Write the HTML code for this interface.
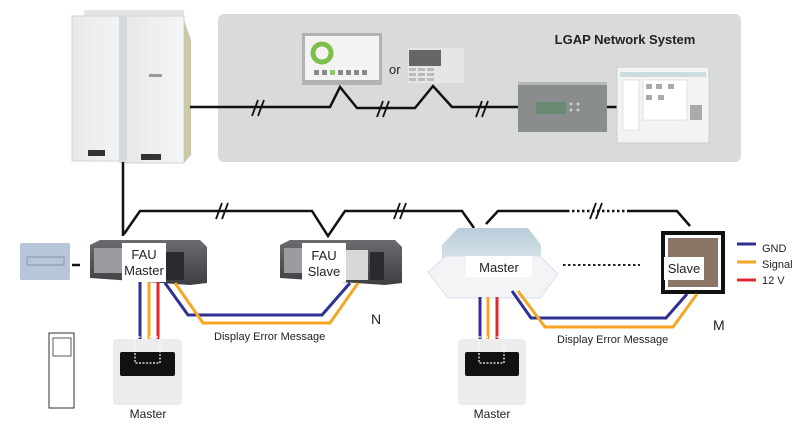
<!DOCTYPE html>
<html><head><meta charset="utf-8"><style>
html,body{margin:0;padding:0;background:#fff;}
svg{display:block;font-family:"Liberation Sans",Arial,sans-serif;}
</style></head><body>
<svg width="804" height="430" viewBox="0 0 804 430" xmlns="http://www.w3.org/2000/svg">
<defs>
<linearGradient id="ou" x1="0" x2="1"><stop offset="0" stop-color="#e6e8ea"/><stop offset="1" stop-color="#f4f5f6"/></linearGradient>
<linearGradient id="duct" x1="0" y1="0" x2="0" y2="1"><stop offset="0" stop-color="#6a6c70"/><stop offset="1" stop-color="#3d3f43"/></linearGradient>
<linearGradient id="cas" x1="0" y1="0" x2="0" y2="1"><stop offset="0" stop-color="#b9cdda"/><stop offset="1" stop-color="#d8e3ea"/></linearGradient>
</defs>
<!-- gray panel -->
<rect x="218" y="14" width="523" height="148" rx="6" fill="#d9dadb"/>
<text x="625" y="44" font-size="13" font-weight="bold" text-anchor="middle" fill="#222">LGAP Network System</text>
<!-- outdoor unit -->
<rect x="84" y="10" width="100" height="10" fill="#e2e4e6"/>
<rect x="72" y="16" width="54" height="145" fill="url(#ou)" stroke="#d0d3d6"/>
<rect x="126" y="16" width="58" height="147" fill="url(#ou)" stroke="#d0d3d6"/>
<rect x="119" y="16" width="8" height="147" fill="#d6d9dc"/>
<polygon points="184,20 191,40 191,155 184,163" fill="#c9c9a8"/>
<rect x="88" y="150" width="17" height="6" fill="#333"/>
<rect x="141" y="154" width="20" height="6" fill="#333"/>
<rect x="149" y="74" width="13" height="3" fill="#999"/>
<!-- top line -->
<polyline points="190,107 330,107 340,87 357,108 415,108 433,86 452,107 518,107" fill="none" stroke="#111" stroke-width="2.5"/>
<line x1="607" y1="107" x2="618" y2="107" stroke="#111" stroke-width="2.5"/>
<g stroke="#111" stroke-width="1.8">
<line x1="252" y1="116" x2="258" y2="100"/><line x1="258" y1="116" x2="264" y2="100"/>
<line x1="377" y1="117" x2="383" y2="101"/><line x1="383" y1="117" x2="389" y2="101"/>
<line x1="476" y1="117" x2="482" y2="101"/><line x1="482" y1="117" x2="488" y2="101"/>
</g>
<!-- touch screen -->
<rect x="302" y="33" width="80" height="52" fill="#b0b2b4"/>
<rect x="305" y="36" width="74" height="44" fill="#f2f3f2"/>
<circle cx="322" cy="53" r="9" fill="none" stroke="#7cc04a" stroke-width="5"/>
<g fill="#888"><rect x="314" y="70" width="5" height="5"/><rect x="322" y="70" width="5" height="5"/><rect x="330" y="70" width="5" height="5" fill="#8c6"/><rect x="338" y="70" width="5" height="5"/><rect x="346" y="70" width="5" height="5"/><rect x="354" y="70" width="5" height="5"/><rect x="362" y="70" width="5" height="5"/></g>
<text x="389" y="74" font-size="13" fill="#222">or</text>
<!-- keypad -->
<rect x="408" y="48" width="56" height="35" fill="#e6e6e4"/>
<rect x="409" y="50" width="32" height="16" fill="#666"/>
<g fill="#bbb"><rect x="409" y="68" width="7" height="3"/><rect x="418" y="68" width="7" height="3"/><rect x="427" y="68" width="7" height="3"/><rect x="409" y="73" width="7" height="3"/><rect x="418" y="73" width="7" height="3"/><rect x="427" y="73" width="7" height="3"/><rect x="409" y="78" width="7" height="3"/><rect x="418" y="78" width="7" height="3"/><rect x="427" y="78" width="7" height="3"/></g>
<!-- controller box -->
<rect x="518" y="82" width="89" height="50" fill="#8a8d8e"/>
<rect x="518" y="82" width="89" height="3" fill="#b5b7b8"/>
<rect x="536" y="102" width="30" height="12" fill="#6b8a72"/>
<circle cx="571" cy="104" r="1.5" fill="#ccc"/><circle cx="578" cy="104" r="1.5" fill="#ccc"/><circle cx="571" cy="110" r="1.5" fill="#ccc"/><circle cx="578" cy="110" r="1.5" fill="#ccc"/>
<!-- pc screen -->
<rect x="617" y="67" width="92" height="76" fill="#f3f3f3" stroke="#cfcfcf"/>
<rect x="620" y="72" width="86" height="5" fill="#cdd"/>
<rect x="623" y="80" width="16" height="50" fill="#fff" stroke="#ccc" stroke-width="0.5"/>
<rect x="643" y="80" width="44" height="40" fill="#fff" stroke="#ccc" stroke-width="0.5"/>
<g fill="#aaa"><rect x="646" y="84" width="6" height="5"/><rect x="656" y="84" width="6" height="5"/><rect x="668" y="84" width="6" height="5"/><rect x="646" y="95" width="6" height="5"/><rect x="658" y="95" width="6" height="5"/><rect x="690" y="105" width="12" height="15"/></g>
<!-- vertical line outdoor -->
<line x1="123" y1="162" x2="123" y2="236" stroke="#111" stroke-width="2.5"/>
<!-- bus line -->
<polyline points="124,234 140,211 312,211 328,236 345,211 462,211 474,228" fill="none" stroke="#111" stroke-width="2.5"/>
<polyline points="486,224 498,211 567,211" fill="none" stroke="#111" stroke-width="2.5"/>
<line x1="567" y1="211" x2="627" y2="211" stroke="#111" stroke-width="2.5" stroke-dasharray="2.5,2.5"/>
<polyline points="627,211 677,211 690,226" fill="none" stroke="#111" stroke-width="2.5"/>
<g stroke="#111" stroke-width="1.8">
<line x1="216" y1="219" x2="222" y2="203"/><line x1="222" y1="219" x2="228" y2="203"/>
<line x1="394" y1="219" x2="400" y2="203"/><line x1="400" y1="219" x2="406" y2="203"/>
<line x1="590" y1="219" x2="596" y2="203"/><line x1="596" y1="219" x2="602" y2="203"/>
</g>
<!-- left small controller -->
<rect x="20" y="243" width="50" height="37" fill="#b7c6d8" rx="2"/>
<rect x="27" y="257" width="37" height="8" fill="none" stroke="#8596a8"/>
<line x1="72" y1="265" x2="80" y2="265" stroke="#111" stroke-width="2.5"/>
<!-- FAU master -->
<polygon points="90,245 100,240 200,240 207,247 207,283 190,285 90,278" fill="url(#duct)"/>
<rect x="94" y="248" width="30" height="25" fill="#9a9c9f"/>
<rect x="166" y="252" width="18" height="28" fill="#2a2b2e"/>
<rect x="122" y="243" width="44" height="39" fill="#fff"/>
<text x="144" y="259" font-size="13" text-anchor="middle" fill="#222">FAU</text>
<text x="144" y="275" font-size="13" text-anchor="middle" fill="#222">Master</text>
<!-- FAU slave -->
<polygon points="280,245 290,240 395,240 402,247 402,283 385,285 280,278" fill="url(#duct)"/>
<rect x="284" y="248" width="20" height="25" fill="#9a9c9f"/>
<rect x="346" y="250" width="22" height="30" fill="#d8d8d8"/>
<rect x="370" y="252" width="14" height="28" fill="#2a2b2e"/>
<rect x="302" y="243" width="44" height="39" fill="#fff"/>
<text x="324" y="260" font-size="13" text-anchor="middle" fill="#222">FAU</text>
<text x="324" y="276" font-size="13" text-anchor="middle" fill="#222">Slave</text>
<!-- cassette -->
<polygon points="442,245 458,228 528,228 541,245 541,262 442,262" fill="url(#cas)"/>
<polygon points="428,272 446,256 540,256 558,274 540,298 448,298" fill="#f2f4f6" stroke="#dde" stroke-width="1"/>
<rect x="466" y="256" width="66" height="21" fill="#fff"/>
<text x="499" y="272" font-size="13" text-anchor="middle" fill="#222">Master</text>
<line x1="563" y1="265" x2="640" y2="265" stroke="#222" stroke-width="2" stroke-dasharray="2.5,2.5"/>
<!-- slave panel -->
<rect x="661" y="231" width="64" height="63" fill="#111"/>
<rect x="665" y="235" width="56" height="55" fill="#fff"/>
<rect x="668" y="238" width="50" height="49" fill="#8b7566"/>
<rect x="664" y="257" width="40" height="23" fill="#fff"/>
<text x="684" y="273" font-size="13" text-anchor="middle" fill="#222">Slave</text>
<!-- legend -->
<line x1="737" y1="244" x2="756" y2="244" stroke="#2e3192" stroke-width="3"/>
<line x1="737" y1="262" x2="756" y2="262" stroke="#f5a623" stroke-width="3"/>
<line x1="737" y1="280" x2="756" y2="280" stroke="#e0282e" stroke-width="3"/>
<text x="762" y="252" font-size="11" fill="#222">GND</text>
<text x="762" y="268" font-size="11" fill="#222">Signal</text>
<text x="762" y="284" font-size="11" fill="#222">12 V</text>
<!-- wires FAU -->
<g stroke-width="3" fill="none">
<line x1="140" y1="282" x2="140" y2="340" stroke="#2e3192"/>
<line x1="149" y1="282" x2="149" y2="340" stroke="#f5a623"/>
<line x1="158" y1="282" x2="158" y2="340" stroke="#e0282e"/>
<polyline points="165,283 188,315 322,315 350,283" stroke="#2e3192"/>
<polyline points="175,283 203,323 330,323 358,283" stroke="#f5a623"/>
<line x1="480" y1="297" x2="480" y2="340" stroke="#2e3192"/>
<line x1="488" y1="297" x2="488" y2="340" stroke="#f5a623"/>
<line x1="497" y1="297" x2="497" y2="340" stroke="#e0282e"/>
<polyline points="512,291 531,318 666,318 687,294" stroke="#2e3192"/>
<polyline points="518,291 545,327 673,327 697,294" stroke="#f5a623"/>
</g>
<text x="214" y="340" font-size="11" fill="#222">Display Error Message</text>
<text x="557" y="343" font-size="11" fill="#222">Display Error Message</text>
<text x="371" y="324" font-size="14" fill="#222">N</text>
<text x="713" y="330" font-size="14" fill="#222">M</text>
<!-- wall controllers -->
<rect x="113" y="339" width="69" height="66" rx="4" fill="#ececec"/>
<rect x="120" y="352" width="55" height="24" rx="2" fill="#111"/>
<rect x="135" y="337" width="25" height="26" fill="none" stroke="#fff" stroke-width="1.2" stroke-dasharray="2,1.5"/>
<text x="148" y="418" font-size="12" text-anchor="middle" fill="#222">Master</text>
<rect x="458" y="339" width="68" height="66" rx="4" fill="#ececec"/>
<rect x="465" y="352" width="54" height="24" rx="2" fill="#111"/>
<rect x="479" y="337" width="25" height="26" fill="none" stroke="#fff" stroke-width="1.2" stroke-dasharray="2,1.5"/>
<text x="492" y="418" font-size="12" text-anchor="middle" fill="#222">Master</text>
<!-- remote -->
<rect x="49" y="333" width="25" height="75" fill="#fff" stroke="#333" stroke-width="1"/>
<rect x="53" y="338" width="18" height="18" fill="#fff" stroke="#333" stroke-width="0.8"/>
</svg>
</body></html>
